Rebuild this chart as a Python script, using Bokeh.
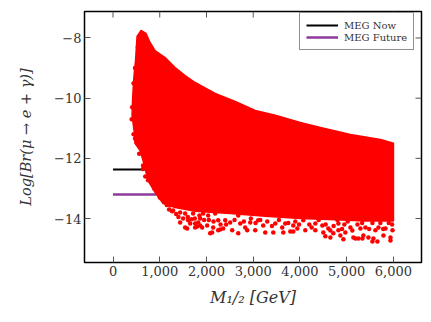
from bokeh.plotting import figure
from bokeh.models import FixedTicker, Legend, LegendItem, Range1d
from bokeh.embed import file_html
from bokeh.resources import INLINE

x_ticks = [0, 1000, 2000, 3000, 4000, 5000, 6000]
x_tick_labels = ["0", "1,000", "2,000", "3,000", "4,000", "5,000", "6,000"]
y_ticks = [-14, -12, -10, -8]
y_tick_labels = ["\u221214", "\u221212", "\u221210", "\u22128"]

# Outline of the solid part of the cloud
cloud_x = [514, 600, 707, 793, 900, 1114, 1329, 1543, 1757, 2186, 2614, 3043, 3472, 4007, 4436, 5079, 5722, 6000,
           6000, 5400, 4757, 4007, 3257, 2507, 1757, 1329, 1071, 900, 771, 707, 643, 579, 471, 450, 407, 418, 429, 450, 482]
cloud_y = [-7.95, -7.75, -7.85, -8.15, -8.42, -8.65, -8.98, -9.25, -9.48, -9.84, -10.11, -10.41, -10.57, -10.81, -10.97, -11.21, -11.37, -11.50,
           -14.08, -14.08, -14.04, -14.0, -13.92, -13.83, -13.76, -13.63, -13.50, -13.13, -12.80, -12.47, -12.07, -11.74, -11.5, -11.07, -10.57, -10.08, -9.74, -9.25, -8.75]

# Separate points along the sparse edges
dots_x = [750, 857, 964, 943, 1050, 1179, 1221, 1286, 1436, 1543, 1436, 1586, 1543, 1650, 1757, 1821, 1864, 1607, 1929, 1714,
          514, 579, 471, 514, 621, 686, 643, 729, 793, 750, 1264, 1800, 2079, 1864, 2014, 2121, 2143, 2250, 2357, 2550,
          2679, 2507, 2722, 2829, 3043, 3214, 2936, 2250, 1907, 1757, 2871, 2400, 2036, 2186, 2464, 2679, 3107, 3257, 3429, 3643,
          3793, 3943, 4114, 4329, 4500, 4650, 4607, 3472, 3686, 4071, 4329, 4479, 4714, 3857, 3407, 3750, 4822, 4864, 4971, 5143,
          5250, 5357, 5464, 5571, 5614, 5786, 5936, 5829, 5979, 5293, 5079, 4822, 5400, 5679, 4929, 5550, 5657, 5936, 5186, 5336,
          4543, 3857, 2293,
          1300, 1350, 1400, 1500, 1600, 1680, 1750, 1850, 1950, 2050, 2150, 2300, 2420, 2600, 2800, 2950, 3050, 3150, 3300, 3400,
          3550, 3620, 3750, 3900, 3980, 4200, 4400, 4550, 4720, 4800, 4950, 5020, 5120, 5230, 5330, 5480, 5550, 5720, 5780, 5900,
          5970, 4900, 4650, 4250, 560, 640, 690, 830, 880, 1000, 1100, 1000, 1150, 1200,
          560, 530, 650, 720, 470, 440, 410, 400, 440]
dots_y = [-12.73, -12.83, -12.90, -13.07, -13.13, -13.33, -13.56, -13.73, -13.80, -13.83, -14.13, -14.33, -14.30, -14.16, -14.16, -14.13, -14.23, -14.06, -13.83, -13.83,
          -10.84, -11.14, -11.34, -11.50, -11.67, -11.97, -12.24, -12.34, -12.50, -12.63, -13.76, -14.26, -14.49, -14.00, -14.23, -14.46, -14.30, -14.39, -14.33, -14.39,
          -14.49, -14.13, -14.16, -14.30, -14.39, -14.23, -14.13, -14.06, -14.30, -14.30, -14.39, -14.06, -13.90, -13.83, -13.73, -13.90, -14.06, -14.46, -14.46, -14.46,
          -14.43, -14.33, -14.39, -14.39, -14.46, -14.63, -14.33, -14.16, -14.16, -14.06, -14.16, -14.23, -14.49, -14.23, -13.80, -13.83, -14.39, -14.56, -14.46, -14.63,
          -14.66, -14.56, -14.63, -14.66, -14.39, -14.56, -14.63, -14.33, -14.39, -14.33, -14.30, -14.16, -14.30, -14.30, -14.69, -14.76, -14.76, -14.73, -14.66, -14.66,
          -14.59, -14.43, -14.36,
          -13.5, -13.85, -13.95, -14.0, -13.95, -14.02, -14.0, -13.9, -14.05, -14.05, -14.1, -14.2, -14.2, -14.05, -14.1, -14.0, -14.15, -14.05, -14.1, -14.25,
          -14.05, -14.3, -14.15, -14.1, -14.2, -14.2, -14.05, -14.2, -14.25, -14.05, -14.2, -14.1, -14.4, -14.2, -14.15, -14.35, -14.15, -14.15, -14.35, -14.15,
          -14.2, -14.35, -14.4, -14.3, -11.85, -12.35, -12.6, -12.65, -13.0, -13.3, -13.45, -13.05, -13.55, -13.7,
          -8.0, -8.3, -7.95, -8.2, -9.0, -9.5, -10.3, -10.7, -11.2]

meg_x = [0, 1000]
meg_now_y = [-12.37, -12.37]
meg_future_y = [-13.2, -13.2]

FONT = "DejaVu Serif"
INK = "#333333"

p = figure(width=423, height=314, output_backend="svg", toolbar_location=None,
           x_range=Range1d(-610, 6600), y_range=Range1d(-15.46, -7.12),
           min_border_left=84, min_border_right=2, min_border_top=11, min_border_bottom=52)
p.grid.visible = False
p.outline_line_color = "black"
p.outline_line_width = 1.5
p.background_fill_color = "white"

def style(ax, ticks, labels):
    ax.ticker = FixedTicker(ticks=ticks)
    ax.major_label_overrides = dict(zip(ticks, labels))
    ax.axis_line_color = None
    ax.major_tick_in = 6
    ax.major_tick_out = 0
    ax.minor_tick_line_color = None
    ax.major_tick_line_color = "#555555"
    ax.major_tick_line_width = 1
    ax.major_label_text_font = FONT
    ax.major_label_text_font_size = "13px"
    ax.major_label_text_color = INK
    ax.major_label_standoff = 3
    ax.axis_label_text_font = FONT
    ax.axis_label_text_font_style = "italic"
    ax.axis_label_text_color = INK

style(p.xaxis[0], x_ticks, x_tick_labels)
style(p.yaxis[0], y_ticks, y_tick_labels)
p.xaxis[0].axis_label = "M\u2081/\u2082 [GeV]"
p.yaxis[0].axis_label = "Log[Br(\u03bc \u2192 e + \u03b3)]"
p.xaxis[0].axis_label_text_font_size = "16px"
p.yaxis[0].axis_label_text_font_size = "14.5px"
p.xaxis[0].axis_label_standoff = 9
p.yaxis[0].axis_label_standoff = 17

# Inward ticks on the top and right frame edges, at the same tick values
tick_dx = 129
tick_dy = 0.2
p.segment(x_ticks, [-7.12] * len(x_ticks), x_ticks, [-7.12 - tick_dy] * len(x_ticks), line_color="#555555", line_width=1)
p.segment([6600] * len(y_ticks), y_ticks, [6600 - tick_dx] * len(y_ticks), y_ticks, line_color="#555555", line_width=1)

now = p.line(meg_x, meg_now_y, line_color="black", line_width=2)
fut = p.line(meg_x, meg_future_y, line_color="#8e3a9d", line_width=2.5)
p.patch(cloud_x, cloud_y, fill_color="#ff0000", line_color="#ff0000", line_width=1.5)
p.scatter(dots_x, dots_y, size=4.5, fill_color="#ff0000", line_color=None)

legend = Legend(items=[LegendItem(label="MEG Now", renderers=[now]),
                       LegendItem(label="MEG Future", renderers=[fut])],
                location=(215, 212), orientation="vertical",
                label_text_font=FONT, label_text_font_size="10px", label_text_color=INK,
                glyph_width=32, glyph_height=12, label_height=12, label_standoff=6,
                padding=6, spacing=0, margin=0, border_line_color="#222222", border_line_width=1.5,
                background_fill_color="white", background_fill_alpha=1.0)
p.add_layout(legend, "center")

open("out.html", "w").write(file_html(p, INLINE))
